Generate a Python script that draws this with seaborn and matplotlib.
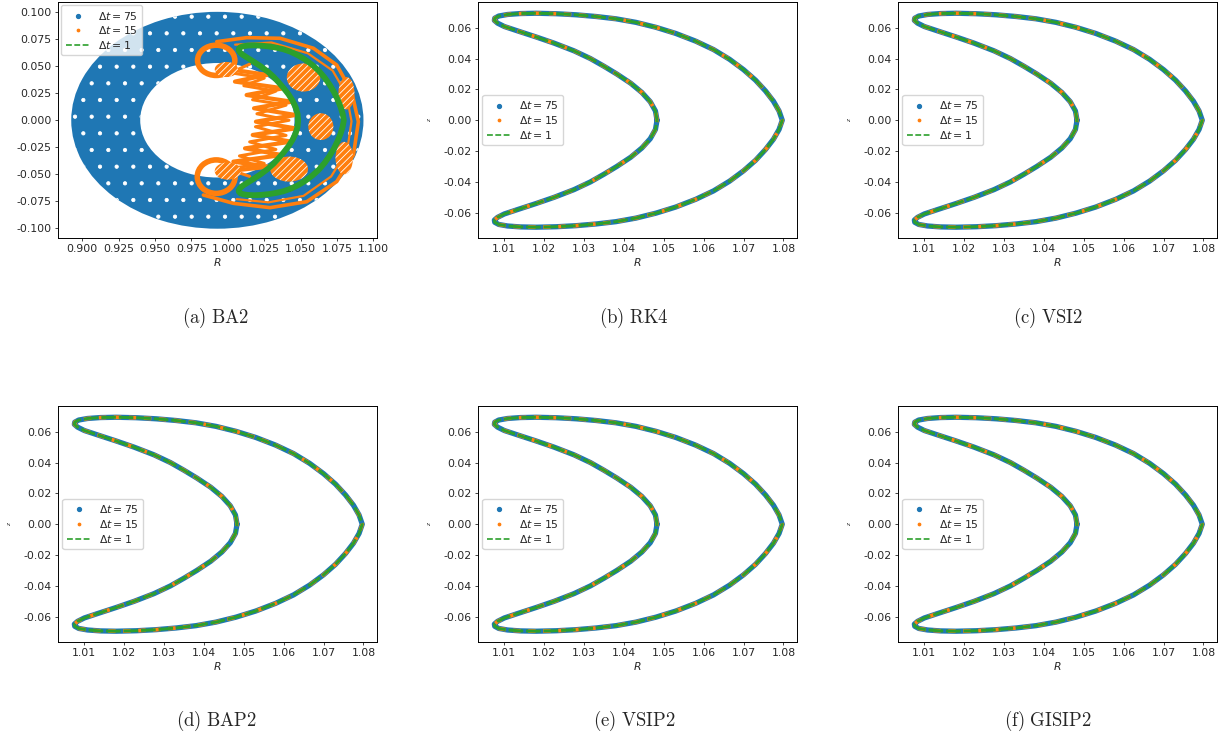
import numpy as np
import pandas as pd
import seaborn as sns
import matplotlib.pyplot as plt
from matplotlib.patches import Wedge, Ellipse
from matplotlib.lines import Line2D
from matplotlib.ticker import MultipleLocator

# --- style ---
sns.set_style("white")
plt.rcParams["font.family"] = ["DejaVu Sans"]
plt.rcParams["mathtext.fontset"] = "dejavusans"
plt.rcParams["hatch.linewidth"] = 0.6
pal = sns.color_palette("tab10")
BLUE, ORANGE, GREEN = pal[0], pal[1], pal[2]
FS = 7.8

# --- data: banana orbit (R, z) (b)-(f) ---
upper_R = [1.0483, 1.0479, 1.0466, 1.0445, 1.0417, 1.0382, 1.0350, 1.0316, 1.0275,
           1.0225, 1.0180, 1.0135, 1.0100, 1.0083, 1.0075, 1.0076, 1.0086, 1.0108,
           1.0140, 1.0180, 1.0230, 1.0280, 1.0330, 1.0380, 1.0430, 1.0480, 1.0530,
           1.0580, 1.0625, 1.0665, 1.0700, 1.0730, 1.0755, 1.0775, 1.0789, 1.0797]
upper_z = [0.0000, 0.0060, 0.0120, 0.0180, 0.0240, 0.0300, 0.0350, 0.0400, 0.0450,
           0.0500, 0.0540, 0.0578, 0.0608, 0.0630, 0.0648, 0.0662, 0.0676, 0.0686,
           0.0692, 0.0694, 0.0691, 0.0684, 0.0673, 0.0658, 0.0635, 0.0603, 0.0563,
           0.0513, 0.0458, 0.0395, 0.0328, 0.0260, 0.0190, 0.0123, 0.0060, 0.0000]
lower_R = [1.0789, 1.0775, 1.0755, 1.0730, 1.0700, 1.0665, 1.0625, 1.0580, 1.0530,
           1.0480, 1.0430, 1.0380, 1.0330, 1.0280, 1.0230, 1.0180, 1.0140, 1.0108,
           1.0086, 1.0076, 1.0075, 1.0083, 1.0100, 1.0135, 1.0180, 1.0225, 1.0275,
           1.0316, 1.0350, 1.0382, 1.0417, 1.0445, 1.0466, 1.0479, 1.0483]
lower_z = [-0.0060, -0.0123, -0.0190, -0.0260, -0.0328, -0.0395, -0.0458, -0.0513, -0.0563,
           -0.0603, -0.0635, -0.0658, -0.0673, -0.0684, -0.0691, -0.0694, -0.0692, -0.0686,
           -0.0676, -0.0662, -0.0648, -0.0630, -0.0608, -0.0578, -0.0540, -0.0500, -0.0450,
           -0.0400, -0.0350, -0.0300, -0.0240, -0.0180, -0.0120, -0.0060, 0.0000]

# --- data: panel (a) BA2 ---
# dt=75 fills an annulus
ring_center = (0.9928, 0.0)
ring_outer = 0.1004
ring_inner = 0.0530

# dt=15 outer envelope
env_R = [0.9924, 1.0130, 1.0359, 1.0588, 1.0748, 1.0851, 1.0897, 1.0863, 1.0748,
         1.0542, 1.0290, 1.0038, 0.9832]
env_z = [0.0728, 0.0765, 0.0759, 0.0667, 0.0512, 0.0265, -0.0013, -0.0321, -0.0568,
         -0.0754, -0.0809, -0.0769, -0.0692]
env2_R = [1.0050, 1.0300, 1.0550, 1.0720, 1.0815, 1.0850, 1.0820, 1.0710, 1.0520, 1.0280, 1.0060]
env2_z = [0.0700, 0.0720, 0.0620, 0.0460, 0.0240, -0.0010, -0.0280, -0.0520, -0.0700, -0.0760, -0.0730]

# dt=15 zig-zag fans inside the banana
zig_R = [0.9969, 1.0270, 1.0049, 1.0380, 1.0129, 1.0440, 1.0180, 1.0465, 1.0193,
         1.0465, 1.0171, 1.0435, 1.0118, 1.0370, 1.0038, 1.0280, 0.9969]
zig_z = [0.0481, 0.0420, 0.0358, 0.0296, 0.0234, 0.0172, 0.0111, 0.0049, -0.0013,
         -0.0075, -0.0136, -0.0198, -0.0260, -0.0322, -0.0383, -0.0430, -0.0476]
zig2_R = [1.0150, 1.0020, 1.0250, 1.0110, 1.0330, 1.0170, 1.0400, 1.0200, 1.0420,
          1.0190, 1.0400, 1.0150, 1.0330, 1.0080, 1.0250, 1.0000, 1.0150]
zig2_z = [0.0520, 0.0440, 0.0390, 0.0320, 0.0270, 0.0190, 0.0140, 0.0060, 0.0000,
          -0.0060, -0.0140, -0.0200, -0.0270, -0.0330, -0.0400, -0.0450, -0.0520]

# dt=15 loops at the banana tips (center R, center z, half-width, half-height)
loop_R = [0.9920, 0.9920]
loop_z = [0.0555, -0.0522]
loop_w = [0.0128, 0.0130]
loop_h = [0.0140, 0.0155]

# dt=15 hatched blobs (center R, center z, half-width, half-height)
blob_R = [1.0520, 1.0639, 1.0421, 1.0815, 1.0800, 0.9990, 1.0000]
blob_z = [0.0396, -0.0059, -0.0452, 0.0250, -0.0350, 0.0470, -0.0470]
blob_w = [0.0115, 0.0086, 0.0130, 0.0055, 0.0060, 0.0080, 0.0090]
blob_h = [0.0130, 0.0124, 0.0116, 0.0150, 0.0150, 0.0070, 0.0080]

captions = ["(a)\\ BA2", "(b)\\ RK4", "(c)\\ VSI2",
            "(d)\\ BAP2", "(e)\\ VSIP2", "(f)\\ GISIP2"]

banana = pd.DataFrame({"R": upper_R + lower_R, "z": upper_z + lower_z})

# --- figure layout (pixels) ---
W, H = 1218, 740
fig = plt.figure(figsize=(W / 100, H / 100), dpi=100)
col_left = [58, 478, 898]
row_top = [2, 406]
ax_w, ax_h = 319, 236
cap_x = [216, 634, 1048]
cap_y = [318, 721]


def legend_handles():
    return [
        Line2D([], [], ls="none", marker="o", ms=2.8, color=BLUE, label=r"$\Delta t = 75$"),
        Line2D([], [], ls="none", marker="o", ms=1.7, color=ORANGE, label=r"$\Delta t = 15$"),
        Line2D([], [], ls=(0, (3.5, 1.5)), lw=1.2, color=GREEN, label=r"$\Delta t = 1$"),
    ]


def style_axis(ax):
    ax.tick_params(labelsize=FS, length=2.5, width=0.6, pad=2, direction="out",
                   bottom=True, left=True)
    for s in ax.spines.values():
        s.set_linewidth(0.7)
        s.set_color("black")
    ax.set_xlabel(r"$R$", fontsize=FS, labelpad=1)


axes = []
for i in range(6):
    r, c = divmod(i, 3)
    x0 = col_left[c] / W
    y0 = 1 - (row_top[r] + ax_h) / H
    ax = fig.add_axes([x0, y0, ax_w / W, ax_h / H])
    axes.append(ax)
    fig.text(cap_x[c] / W, 1 - cap_y[r] / H, "$\\mathrm{" + captions[i] + "}$",
             fontsize=13.5, ha="center", va="center", math_fontfamily="cm")

# --- panel (a) ---
ax = axes[0]
ax.add_patch(Wedge(ring_center, ring_outer, 0, 360, width=ring_outer - ring_inner,
                   facecolor=BLUE, edgecolor="white", lw=0, hatch=".", zorder=1))
sns.lineplot(x=env_R, y=env_z, sort=False, estimator=None, color=ORANGE, lw=2.6, ax=ax, zorder=2)
sns.lineplot(x=env2_R, y=env2_z, sort=False, estimator=None, color=ORANGE, lw=1.6, ax=ax, zorder=2)
sns.lineplot(x=zig_R, y=zig_z, sort=False, estimator=None, color=ORANGE, lw=3.0, ax=ax, zorder=2)
sns.lineplot(x=zig2_R, y=zig2_z, sort=False, estimator=None, color=ORANGE, lw=2.2, ax=ax, zorder=2)
for cr, cz, hw, hh in zip(loop_R, loop_z, loop_w, loop_h):
    ax.add_patch(Ellipse((cr, cz), 2 * hw, 2 * hh, fill=False, edgecolor=ORANGE, lw=4, zorder=2))
for cr, cz, hw, hh in zip(blob_R, blob_z, blob_w, blob_h):
    ax.add_patch(Ellipse((cr, cz), 2 * hw, 2 * hh, facecolor=ORANGE, edgecolor="white",
                         lw=0, hatch="/////", zorder=2))
sns.lineplot(data=banana, x="R", y="z", sort=False, estimator=None, color=GREEN, lw=4.2, ax=ax, zorder=3)
ax.set_xlim(0.8833, 1.1025)
ax.set_ylim(-0.109, 0.1095)
ax.xaxis.set_major_locator(MultipleLocator(0.025))
ax.yaxis.set_major_locator(MultipleLocator(0.025))
ax.xaxis.set_major_formatter(plt.FormatStrFormatter("%.3f"))
ax.yaxis.set_major_formatter(plt.FormatStrFormatter("%.3f"))
style_axis(ax)
ax.set_ylabel("")
ax.legend(handles=legend_handles(), loc="upper left", fontsize=FS, borderaxespad=0.3,
          handlelength=2.2, borderpad=0.4, labelspacing=0.25)

# --- panels (b)-(f) ---
for ax in axes[1:]:
    sns.lineplot(data=banana, x="R", y="z", sort=False, estimator=None, color=BLUE, lw=3.8, ax=ax)
    sns.lineplot(data=banana, x="R", y="z", sort=False, estimator=None, color=ORANGE, lw=2.7,
                 ls=(0, (2, 2)), ax=ax)
    sns.lineplot(data=banana, x="R", y="z", sort=False, estimator=None, color=GREEN, lw=2.1,
                 ls=(0, (5, 1)), ax=ax)
    ax.set_xlim(1.0034, 1.0834)
    ax.set_ylim(-0.0764, 0.0767)
    ax.xaxis.set_major_locator(MultipleLocator(0.01))
    ax.yaxis.set_major_locator(MultipleLocator(0.02))
    ax.xaxis.set_major_formatter(plt.FormatStrFormatter("%.2f"))
    ax.yaxis.set_major_formatter(plt.FormatStrFormatter("%.2f"))
    style_axis(ax)
    ax.set_ylabel(r"$z$", fontsize=4, labelpad=8)
    ax.legend(handles=legend_handles(), loc="center left", fontsize=FS, borderaxespad=0.4,
              handlelength=2.2, borderpad=0.4, labelspacing=0.25)

fig.savefig("out.png", dpi=100)
